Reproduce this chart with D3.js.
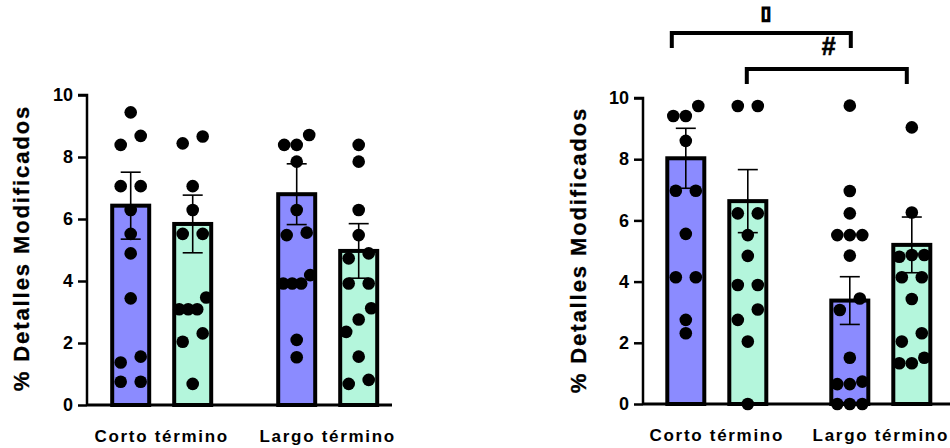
<!DOCTYPE html>
<html>
<head>
<meta charset="utf-8">
<script src="https://cdn.jsdelivr.net/npm/d3@7"></script>
<style>
  html, body { margin: 0; padding: 0; background: #fff; }
  svg { display: block; }
  text { font-family: "Liberation Sans", Arial, sans-serif; font-weight: bold; fill: #000; }
</style>
</head>
<body>
<svg id="chart" width="950" height="448"></svg>
<script>
// ---------- DATA ----------
const groups = ["Corto término", "Largo término"];
const conditions = ["A", "B"];
const yTicks = [0, 2, 4, 6, 8, 10];
const yTitle = "% Detalles Modificados";

// Left panel
const leftMeans = [[6.43, 5.84], [6.80, 4.97]];
const leftSem   = [[1.08, 0.93], [0.98, 0.88]];
const leftCortoA = [9.44, 8.68, 8.39, 7.06, 7.06, 6.29, 5.52, 4.89, 3.44, 1.56, 1.37, 0.75, 0.75];
const leftCortoB = [8.66, 8.44, 7.06, 6.29, 5.52, 5.52, 3.47, 3.09, 3.09, 3.09, 2.31, 2.04, 0.68];
const leftLargoA = [8.71, 8.39, 8.39, 7.85, 6.29, 5.56, 5.48, 4.19, 3.92, 3.92, 3.92, 2.10, 1.54];
const leftLargoB = [8.39, 7.85, 6.29, 5.48, 4.89, 4.73, 3.92, 3.92, 3.12, 2.76, 2.36, 1.56, 0.81, 0.68];

// Right panel
const rightMeans = [[8.03, 6.63], [3.38, 5.20]];
const rightSem   = [[0.98, 1.03], [0.78, 0.91]];
const rightCortoA = [9.74, 9.41, 9.41, 8.60, 6.97, 6.97, 5.56, 4.14, 4.14, 2.75, 2.31];
const rightCortoB = [9.74, 9.74, 6.23, 6.23, 5.52, 4.84, 3.89, 3.89, 3.09, 2.75, 2.04, 0];
const rightLargoA = [9.75, 6.96, 6.23, 5.52, 5.52, 5.52, 4.85, 3.45, 3.07, 1.51, 0.73, 0.65, 0.65, 0, 0, 0];
const rightLargoB = [9.04, 6.26, 4.87, 4.87, 4.81, 4.14, 4.14, 3.43, 2.31, 2.04, 1.51, 1.33, 1.33];

// Significance annotations (right panel): [fromGroup, fromCond, toGroup, toCond, label]
const sigMarks = [
  ["Corto término", "A", "Largo término", "A", "\u25AF"],
  ["Corto término", "B", "Largo término", "B", "#"]
];

const colors = { A: "#8b8bff", B: "#b4f6dc" };

// ---------- DRAW ----------
const svg = d3.select("#chart");

function beeswarm(values, y, cx) {
  const d = values.map(v => ({ v, py: y(v) })).sort((a, b) => b.py - a.py);
  const clusters = [];
  let cur = [];
  d.forEach(p => {
    if (cur.length && cur[cur.length - 1].py - p.py >= 12.5) { clusters.push(cur); cur = []; }
    cur.push(p);
  });
  if (cur.length) clusters.push(cur);
  const out = [];
  const hwTable = [0, 0, 10, 12.5, 13.5];
  clusters.forEach(c => {
    const n = c.length;
    const hw = hwTable[Math.min(n, 4)];
    c.sort((a, b) => a.v - b.v);
    c.forEach((p, i) => {
      const off = n === 1 ? 0 : -hw + (2 * hw) * i / (n - 1);
      out.push({ x: cx + off, y: p.py });
    });
  });
  return out;
}

function panel(cfg) {
  const g = svg.append("g");
  const y = d3.scaleLinear().domain([0, 10]).range([cfg.y0, cfg.y10]);
  const xg = d3.scalePoint().domain(groups).range([cfg.axisX, cfg.axisX + cfg.width]).padding(0.45);
  const xc = d3.scalePoint().domain(conditions).range([-31, 31]);
  const barW = 37;

  // bars
  groups.forEach((grp, gi) => {
    conditions.forEach((c, ci) => {
      const cx = xg(grp) + xc(c);
      const m = cfg.means[gi][ci];
      g.append("rect")
        .attr("x", cx - barW / 2).attr("width", barW)
        .attr("y", y(m)).attr("height", y(0) - y(m))
        .attr("fill", colors[c]).attr("stroke", "#000").attr("stroke-width", 4);
    });
  });

  // axes
  const yAxis = d3.axisLeft(y).tickValues(yTicks).tickSize(9).tickPadding(5).tickFormat(d3.format("d"));
  const ag = g.append("g").attr("transform", `translate(${cfg.axisX},0)`).call(yAxis);
  ag.select(".domain").attr("stroke", "#000").attr("stroke-width", 2.5).attr("d", `M-9,${y(10)}H0V${y(0)}`);
  ag.selectAll(".tick line").attr("stroke", "#000").attr("stroke-width", 2.5);
  ag.selectAll(".tick text").attr("font-size", 18).attr("font-family", "Liberation Sans, Arial, sans-serif").attr("font-weight", "bold");

  g.append("line").attr("x1", cfg.axisX).attr("x2", cfg.baseEnd)
    .attr("y1", y(0)).attr("y2", y(0)).attr("stroke", "#000").attr("stroke-width", 3);

  // x labels
  groups.forEach(grp => {
    g.append("text").attr("x", xg(grp)).attr("y", cfg.y0 + 37)
      .attr("text-anchor", "middle").attr("font-size", 17).attr("letter-spacing", 1.7).text(grp);
  });

  // y title
  g.append("text")
    .attr("transform", `translate(${cfg.titleX},${cfg.titleY}) rotate(-90)`)
    .attr("text-anchor", "middle").attr("font-size", 22).attr("letter-spacing", 1.9)
    .attr("stroke", "#000").attr("stroke-width", 0.3).text(yTitle);

  // error bars
  groups.forEach((grp, gi) => {
    conditions.forEach((c, ci) => {
      const cx = xg(grp) + xc(c);
      const m = cfg.means[gi][ci], s = cfg.sem[gi][ci];
      const eg = g.append("g").attr("stroke", "#000").attr("stroke-width", 1.6);
      eg.append("line").attr("x1", cx).attr("x2", cx).attr("y1", y(m + s)).attr("y2", y(m - s));
      eg.append("line").attr("x1", cx - 10).attr("x2", cx + 10).attr("y1", y(m + s)).attr("y2", y(m + s));
      eg.append("line").attr("x1", cx - 10).attr("x2", cx + 10).attr("y1", y(m - s)).attr("y2", y(m - s));
    });
  });

  // points
  groups.forEach((grp, gi) => {
    conditions.forEach((c, ci) => {
      const cx = xg(grp) + xc(c);
      const pts = beeswarm(cfg.points[gi][ci], y, cx);
      g.selectAll(null).data(pts).enter().append("circle")
        .attr("cx", d => d.x).attr("cy", d => d.y).attr("r", 6.3).attr("fill", "#000");
    });
  });

  return { g, y, xg, xc };
}

panel({
  axisX: 87, width: 315.4, y0: 405, y10: 95, baseEnd: 392,
  titleX: 29, titleY: 248,
  means: leftMeans, sem: leftSem,
  points: [[leftCortoA, leftCortoB], [leftLargoA, leftLargoB]]
});

const R = panel({
  axisX: 643, width: 311.6, y0: 404, y10: 98, baseEnd: 950,
  titleX: 586, titleY: 250,
  means: rightMeans, sem: rightSem,
  points: [[rightCortoA, rightCortoB], [rightLargoA, rightLargoB]]
});

// significance brackets
const bracketLevels = [33, 69];
const bracketShift = [[-14, 1], [-1, -5]];
sigMarks.forEach((s, i) => {
  const x1 = R.xg(s[0]) + R.xc(s[1]) + bracketShift[i][0];
  const x2 = R.xg(s[2]) + R.xc(s[3]) + bracketShift[i][1];
  const yb = bracketLevels[i];
  svg.append("path")
    .attr("d", `M${x1},${yb + 15}V${yb}H${x2}V${yb + 15}`)
    .attr("fill", "none").attr("stroke", "#000").attr("stroke-width", 4);
  if (i === 0) {
    svg.append("text").attr("x", (x1 + x2) / 2 + 5).attr("y", yb - 14)
      .attr("text-anchor", "middle").attr("font-size", 18)
      .attr("stroke", "#000").attr("stroke-width", 1.4)
      .attr("font-family", "DejaVu Sans").text(s[4]);
  } else {
    svg.append("text").attr("x", x2 - 78).attr("y", yb - 14)
      .attr("text-anchor", "middle").attr("font-size", 25)
      .attr("stroke", "#000").attr("stroke-width", 0.6).text(s[4]);
  }
});
</script>
</body>
</html>
